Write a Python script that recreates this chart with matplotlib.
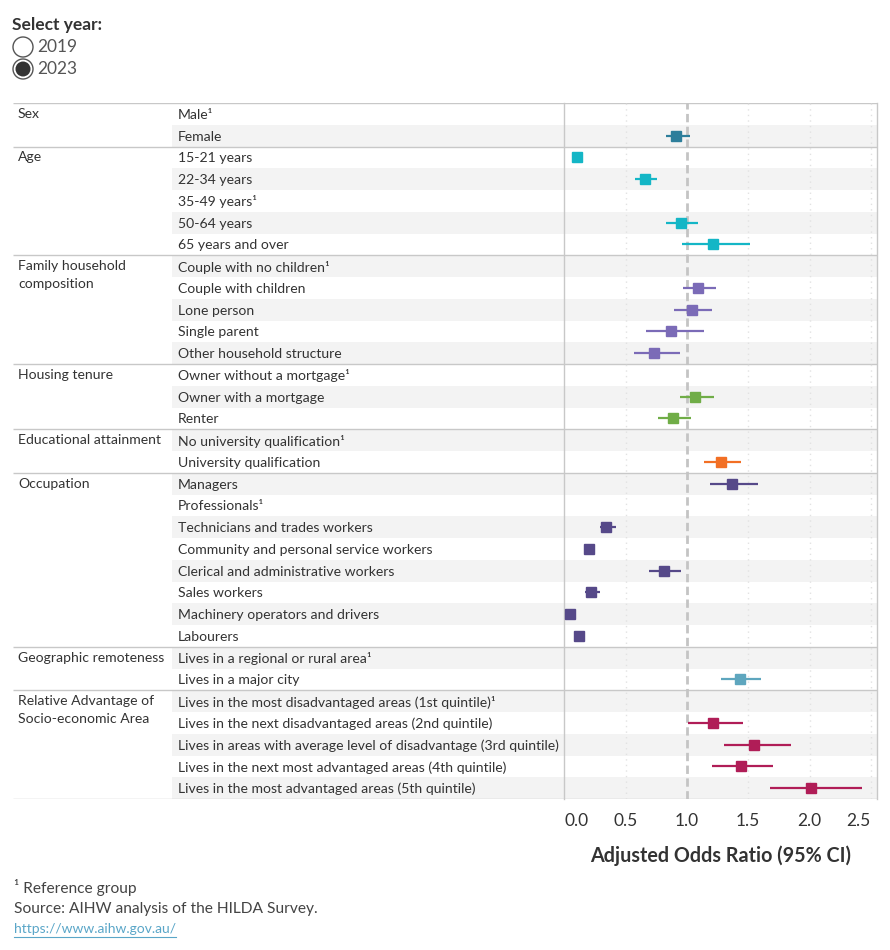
import numpy as np
import matplotlib
matplotlib.use('Agg')
import matplotlib.pyplot as plt
from matplotlib.patches import Circle
from matplotlib.lines import Line2D

plt.rcParams['font.family'] = ['Lato', 'DejaVu Sans']

# ---- data ----
groups = ['Sex', 'Age', 'Family household\ncomposition', 'Housing tenure',
          'Educational attainment', 'Occupation', 'Geographic remoteness',
          'Relative Advantage of\nSocio-economic Area']
group_sizes = [2, 5, 5, 3, 2, 8, 2, 5]
group_colors = ['#2d7e9b', '#14b6c6', '#7b6bb7', '#70ad47',
                '#f26f24', '#564989', '#5ea6be', '#b01d57']

items = ['Male¹', 'Female',
         '15-21 years', '22-34 years', '35-49 years¹', '50-64 years', '65 years and over',
         'Couple with no children¹', 'Couple with children', 'Lone person', 'Single parent',
         'Other household structure',
         'Owner without a mortgage¹', 'Owner with a mortgage', 'Renter',
         'No university qualification¹', 'University qualification',
         'Managers', 'Professionals¹', 'Technicians and trades workers',
         'Community and personal service workers', 'Clerical and administrative workers',
         'Sales workers', 'Machinery operators and drivers', 'Labourers',
         'Lives in a regional or rural area¹', 'Lives in a major city',
         'Lives in the most disadvantaged areas (1st quintile)¹',
         'Lives in the next disadvantaged areas (2nd quintile)',
         'Lives in areas with average level of disadvantage (3rd quintile)',
         'Lives in the next most advantaged areas (4th quintile)',
         'Lives in the most advantaged areas (5th quintile)']

nan = np.nan
odds = [nan, 0.91,
        0.10, 0.66, nan, 0.955, 1.21,
        nan, 1.09, 1.04, 0.87, 0.73,
        nan, 1.07, 0.89,
        nan, 1.28,
        1.37, nan, 0.34, 0.20, 0.81, 0.22, 0.05, 0.12,
        nan, 1.43,
        nan, 1.215, 1.55, 1.44, 2.015]
ci_low = [nan, 0.83,
          0.07, 0.58, nan, 0.83, 0.96,
          nan, 0.97, 0.895, 0.665, 0.57,
          nan, 0.945, 0.765,
          nan, 1.14,
          1.19, nan, 0.29, 0.17, 0.69, 0.17, 0.03, 0.09,
          nan, 1.28,
          nan, 1.01, 1.30, 1.205, 1.68]
ci_high = [nan, 1.025,
           0.14, 0.755, nan, 1.09, 1.515,
           nan, 1.235, 1.205, 1.14, 0.945,
           nan, 1.22, 1.035,
           nan, 1.44,
           1.58, nan, 0.42, 0.25, 0.95, 0.29, 0.07, 0.17,
           nan, 1.605,
           nan, 1.455, 1.845, 1.705, 2.425]

xticks = [0.0, 0.5, 1.0, 1.5, 2.0, 2.5]
xmax = 2.548

# ---- layout (pixels) ----
W, H = 890, 950
top_px, bot_px = 103, 799
tbl_left, lbl_x, band_x, plot_left, plot_right = 13, 178, 172, 564.3, 876.7
n = len(items)

def fr(x0, x1):
    return [x0 / W, 1 - bot_px / H, (x1 - x0) / W, (bot_px - top_px) / H]

fig = plt.figure(figsize=(W / 100, H / 100), dpi=100)
txt_col = '#333333'
line_col = '#c8c8c8'

# table background: bands, separators, labels
bg = fig.add_axes(fr(tbl_left, plot_right))
bg.set_xlim(tbl_left, plot_right)
bg.set_ylim(n, 0)
bg.axis('off')
for i in range(n):
    if i % 2 == 1:
        bg.fill_between([band_x, plot_right], i, i + 1, color='#f3f3f3', lw=0)
    bg.text(lbl_x, i + 0.55, items[i], va='center', ha='left', fontsize=10.1, color=txt_col)

starts = np.concatenate([[0], np.cumsum(group_sizes)])
bg.hlines(starts, tbl_left, plot_right, color=line_col, lw=1)
for g, s in zip(groups, starts[:-1]):
    bg.text(18, s + 0.22, g, va='top', ha='left', fontsize=10.1, color=txt_col, linespacing=1.6)

# forest plot
ax = fig.add_axes(fr(plot_left, plot_right))
ax.set_facecolor('none')
ax.set_xlim(0, xmax)
ax.set_ylim(n, 0)
row_colors = np.repeat(group_colors, group_sizes)
ypos = np.arange(n) + 0.5
for gx in [0.5, 1.5, 2.0, 2.5]:
    ax.axvline(gx, color='#e2e2e2', lw=1, ls=(0, (1, 3)), zorder=0)
ax.axvline(1.0, color='#c4c4c4', lw=2, ls=(0, (3, 1.6)), zorder=1)
for y, o, lo, hi, c in zip(ypos, odds, ci_low, ci_high, row_colors):
    if np.isnan(o):
        continue
    ax.hlines(y, lo, hi, color=c, lw=1.6, zorder=3)
    ax.plot(o, y, 's', color=c, ms=6.6, zorder=4, clip_on=False)

for side in ['top', 'bottom']:
    ax.spines[side].set_visible(False)
for side in ['left', 'right']:
    ax.spines[side].set_color(line_col)
    ax.spines[side].set_linewidth(1)
ax.set_yticks([])
ax.set_xticks(xticks)
ax.set_xticklabels([f'{t:.1f}' for t in xticks], fontsize=12.5, color=txt_col)
labs = ax.get_xticklabels()
labs[0].set_ha('left')
labs[-1].set_ha('right')
ax.tick_params(axis='x', length=0, pad=10)
ax.set_xlabel('Adjusted Odds Ratio (95% CI)', fontsize=14.2, fontweight='bold',
              color=txt_col, labelpad=12)

# header and footer in pixel coordinates
ov = fig.add_axes([0, 0, 1, 1])
ov.set_xlim(0, W)
ov.set_ylim(H, 0)
ov.axis('off')
ov.set_facecolor('none')
ov.text(12, 25, 'Select year:', fontsize=12.5, fontweight='bold', color=txt_col, va='center')
years = ['2019', '2023']
for k, yr in enumerate(years):
    cy = 47 + 22 * k
    ov.add_patch(Circle((23, cy), 10, facecolor='white', edgecolor='#555555', lw=1))
    if yr == '2023':
        ov.add_patch(Circle((23, cy), 7.5, facecolor='#333333', edgecolor='none'))
    ov.text(37, cy, yr, fontsize=12.5, color='#555555', va='center')

ov.text(14, 888, '¹ Reference group', fontsize=11.2, color='#444444', va='center')
ov.text(14, 909, 'Source: AIHW analysis of the HILDA Survey.', fontsize=11.2,
        color='#444444', va='center')
link = ov.text(14, 929, 'https://www.aihw.gov.au/', fontsize=10, color='#5aa6c8', va='center')
fig.canvas.draw()
bb = link.get_window_extent().transformed(ov.transData.inverted())
ov.add_line(Line2D([bb.x0, bb.x1], [937, 937], color='#5aa6c8', lw=0.8))

fig.savefig('out.png', dpi=100)
